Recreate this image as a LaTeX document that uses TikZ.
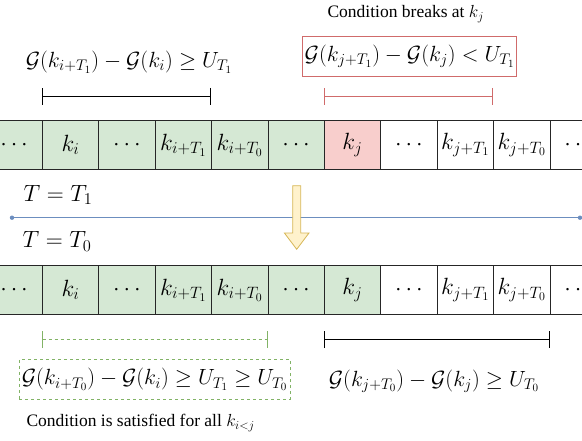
\RequirePackage{fix-cm}
\documentclass[tikz,border=0pt]{standalone}
\usepackage{fontspec}
\setmainfont{Liberation Serif}
\usetikzlibrary{arrows.meta}

\definecolor{cellgreen}{HTML}{D5E8D4}
\definecolor{cellred}{HTML}{F8CECC}
\definecolor{linered}{HTML}{D06B6B}
\definecolor{linegreen}{HTML}{82B366}
\definecolor{lineblue}{HTML}{6C8EBF}
\definecolor{arrowfill}{HTML}{FFF2CC}
\definecolor{arrowline}{HTML}{D6B656}

\tikzset{
  cell/.style={draw=black!85, line width=0.8pt, minimum width=56.4pt,
    minimum height=48.6pt, inner sep=0pt, font=\fontsize{23.5}{26}\selectfont},
  bracket/.style={{Bar[width=17pt]}-{Bar[width=17pt]}, line width=0.8pt},
  big/.style={font=\fontsize{22}{26}\selectfont},
  label/.style={font=\fontsize{23.5}{26}\selectfont},
  txt/.style={font=\fontsize{17.5}{21}\selectfont},
  dash3/.style={dash pattern=on 3pt off 3pt},
}

\begin{document}
\begin{tikzpicture}[x=1pt, y=-1pt]
     \useasboundingbox (0,0) rectangle (582,440);
     \clip (0,0) rectangle (582,440);

     % rows of cells
     \foreach \lab/\tfill/\bfill [count=\n from 0] in {
         $\cdots$/cellgreen/cellgreen, $k_i$/cellgreen/cellgreen,
         $\cdots$/cellgreen/cellgreen, $k_{i+T_1}$/cellgreen/cellgreen,
         $k_{i+T_0}$/cellgreen/cellgreen, $\cdots$/cellgreen/cellgreen,
         $k_j$/cellred/cellgreen, $\cdots$/white/white,
         $k_{j+T_1}$/white/white, $k_{j+T_0}$/white/white,
         $\cdots$/white/white} {
       \node[cell, fill=\tfill] (t\n) at ({14.1+56.4*\n},145) {\lab};
       \node[cell, fill=\bfill] (b\n) at ({14.1+56.4*\n},290) {\lab};
     }

     % top conditions
     \node[big] (condT1) at (129,62) {$\mathcal{G}(k_{i+T_1})-\mathcal{G}(k_i)\geq U_{T_1}$};
     \node[txt, anchor=west] (brk) at (324,14) {Condition breaks at $k_j$};
     \node[big, draw=linered, line width=0.8pt, minimum width=214pt, minimum height=40.7pt,
       inner sep=2pt] (failT1) at (409.7,56.3) {$\mathcal{G}(k_{j+T_1})-\mathcal{G}(k_j)<U_{T_1}$};
     \draw[bracket] ([yshift=24pt]t1.north west) -- ([yshift=24pt]t4.north west);
     \draw[bracket, linered] ([yshift=24pt]t6.north west) -- ([yshift=24pt]t9.north west);

     % switch of T
     \coordinate (sepL) at (12,217.7);
     \coordinate (sepR) at (580,217.7);
     \draw[lineblue, line width=0.9pt] (sepL) -- (sepR);
     \fill[lineblue] (sepL) circle (2.2pt) (sepR) circle (2.2pt);
     \node[label] (tone) at (58,195) {$T=T_1$};
     \node[label] (tzero) at (57,241.7) {$T=T_0$};
     \draw[arrowline, fill=arrowfill, line width=0.8pt]
       (292.7,185.7) -- (300.7,185.7) -- (300.7,233) -- (309,233) -- (296.7,249.3)
       -- (284.4,233) -- (292.7,233) -- cycle;

     % bottom conditions
     \draw[bracket, linegreen, dash3] ([yshift=-25pt]b1.south west) -- ([yshift=-25pt]b5.south west);
     \draw[bracket] ([yshift=-25pt]b6.south west) -- ([yshift=-25pt]b10.south west);
     \node[big, draw=linegreen, dash3, line width=0.8pt, minimum width=270.7pt,
       minimum height=40pt, inner sep=0pt] (okT0) at (154.6,379.3)
       {$\mathcal{G}(k_{i+T_0})-\mathcal{G}(k_i)\geq U_{T_1}\geq U_{T_0}$};
     \node[big] (condT0) at (434,381) {$\mathcal{G}(k_{j+T_0})-\mathcal{G}(k_j)\geq U_{T_0}$};
     \node[txt, anchor=west] (sat) at (23,423) {Condition is satisfied for all $k_{i<j}$};

\end{tikzpicture}
\end{document}
